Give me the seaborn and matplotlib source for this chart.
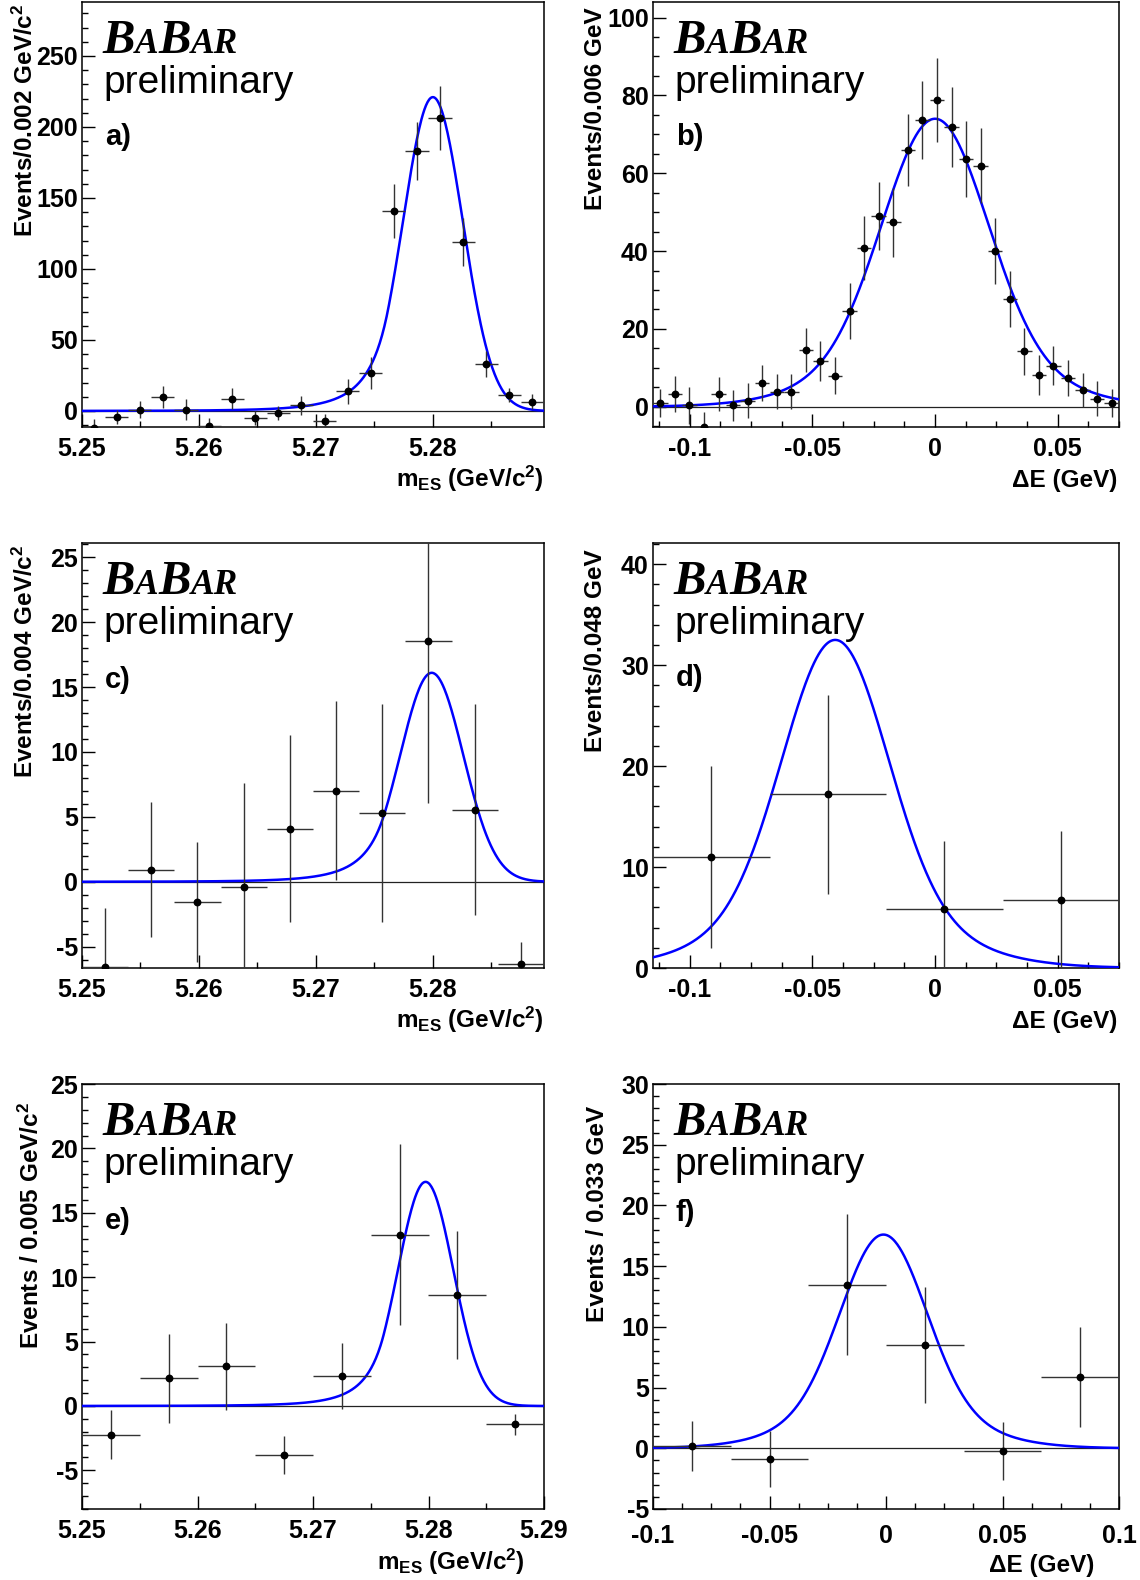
import numpy as np
import pandas as pd
import matplotlib
matplotlib.use("Agg")
import matplotlib.pyplot as plt
import seaborn as sns
from matplotlib.ticker import MultipleLocator, FuncFormatter
from matplotlib.offsetbox import TextArea, HPacker, AnnotationBbox

# ---------------- data ----------------
# a) m_ES, 20 bins over [5.25, 5.2895]
a_x = [5.25099, 5.25296, 5.25494, 5.25691, 5.25889, 5.26086, 5.26284, 5.26481,
       5.26679, 5.26876, 5.27074, 5.27271, 5.27469, 5.27666, 5.27864, 5.28061,
       5.28259, 5.28456, 5.28654, 5.28851]
a_y = [-11.7, -4.2, 1.0, 9.9, 1.0, -10.8, 8.5, -4.7, -1.4, 4.0, -7.0, 14.0,
       26.8, 140.6, 182.9, 206.3, 119.0, 32.9, 11.3, 6.6]
a_err = [6, 5, 6, 8, 7.5, 6, 7.4, 5, 5, 6.7, 5, 8.8, 11, 19, 20.5, 22.5, 17, 9, 5, 5]
a_half = 0.0009875

# b) Delta E, 32 bins over [-0.115, 0.075]
b_x = [-0.11203, -0.10609, -0.10016, -0.09422, -0.08828, -0.08234, -0.07641,
       -0.07047, -0.06453, -0.05859, -0.05266, -0.04672, -0.04078, -0.03484,
       -0.02891, -0.02297, -0.01703, -0.01109, -0.00516, 0.00078, 0.00672,
       0.01266, 0.01859, 0.02453, 0.03047, 0.03641, 0.04234, 0.04828, 0.05422,
       0.06016, 0.06609, 0.07203]
b_y = [0.9, 3.3, 0.4, -5.3, 3.3, 0.4, 1.5, 6.2, 3.9, 3.9, 14.6, 11.8, 8.0, 24.6,
       40.8, 49.0, 47.4, 66.0, 73.7, 78.8, 71.8, 63.7, 61.9, 40.1, 27.7, 14.2,
       8.2, 10.5, 7.3, 4.3, 2.1, 0.9]
b_err = [3.6, 4.6, 4.8, 4.0, 4.3, 4.0, 4.5, 4.6, 4.5, 4.5, 5.6, 5.2, 4.8, 7.2,
         8.2, 8.8, 8.8, 9.3, 10.0, 10.7, 10.3, 9.8, 9.6, 8.5, 7.2, 6.0, 5.2, 5.0,
         4.6, 4.4, 4.6, 3.6]
b_half = 0.00296875

# c) m_ES, 10 bins
c_x = [5.251975, 5.255925, 5.259875, 5.263825, 5.267775, 5.271725, 5.275675,
       5.279625, 5.283575, 5.287525]
c_y = [-6.6, 0.92, -1.56, -0.41, 4.08, 7.03, 5.33, 18.56, 5.56, -6.36]
c_err = [4.56, 5.2, 4.65, 8.0, 7.2, 6.9, 8.4, 12.5, 8.1, 1.75]
c_half = 0.001975

# d) Delta E, 4 bins
d_x = [-0.09125, -0.04375, 0.00375, 0.05125]
d_y = [10.99, 17.19, 5.87, 6.70]
d_err = [9.0, 9.9, 6.7, 6.9]
d_half = 0.02375

# e) m_ES, 8 bins
e_x = [5.2525, 5.2575, 5.2625, 5.2675, 5.2725, 5.2775, 5.2825, 5.2875]
e_y = [-2.22, 2.14, 3.07, -3.82, 2.32, 13.30, 8.60, -1.42]
e_err = [1.9, 3.47, 3.38, 1.45, 2.56, 7.05, 4.95, 0.8]
e_half = 0.0025

# f) Delta E, 6 bins
f_x = [-0.08333, -0.05, -0.01667, 0.01667, 0.05, 0.08333]
f_y = [0.22, -0.85, 13.48, 8.49, -0.22, 5.89]
f_err = [2.05, 2.3, 5.8, 4.8, 2.4, 4.1]
f_half = 0.016667

# fitted PDF parameters (peak height, mean, widths)
a_fit = dict(kind="cb", peak=221.0, mean=5.2800, sigma=0.00255, alpha=1.5, n=5.0)
c_fit = dict(kind="cb", peak=16.1, mean=5.2799, sigma=0.0027, alpha=1.5, n=5.0)
e_fit = dict(kind="cb", peak=17.4, mean=5.27975, sigma=0.0024, alpha=1.5, n=5.0)
b_fit = dict(kind="dg", peak=74.0, mean=0.0, frac=0.81, s1=0.021, s2=0.037)
d_fit = dict(kind="dg", peak=32.5, mean=-0.0407, frac=0.81, s1=0.021, s2=0.039)
f_fit = dict(kind="dg", peak=17.6, mean=-0.0011, frac=0.81, s1=0.018, s2=0.033)

mes_label = r"m$_{\mathrm{ES}}$ (GeV/c$^{\mathrm{2}}$)"
de_label = "ΔE (GeV)"
ylabels = ["Events/0.002 GeV/c$^{\\mathrm{2}}$", "Events/0.006 GeV",
           "Events/0.004 GeV/c$^{\\mathrm{2}}$", "Events/0.048 GeV",
           "Events / 0.005 GeV/c$^{\\mathrm{2}}$", "Events / 0.033 GeV"]
tags = ["a)", "b)", "c)", "d)", "e)", "f)"]


def crystal_ball(x, peak, mean, sigma, alpha, n):
    t = (x - mean) / sigma
    A = (n / alpha) ** n * np.exp(-alpha ** 2 / 2)
    B = n / alpha - alpha
    tail = A * np.maximum(B - t, 1e-9) ** (-n)
    return peak * np.where(t > -alpha, np.exp(-t ** 2 / 2), tail)


def double_gauss(x, peak, mean, frac, s1, s2):
    d = x - mean
    return peak * (frac * np.exp(-d ** 2 / (2 * s1 ** 2)) +
                   (1 - frac) * np.exp(-d ** 2 / (2 * s2 ** 2)))


def fit_curve(x, p):
    if p["kind"] == "cb":
        return crystal_ball(x, p["peak"], p["mean"], p["sigma"], p["alpha"], p["n"])
    return double_gauss(x, p["peak"], p["mean"], p["frac"], p["s1"], p["s2"])


# ---------------- style ----------------
sns.set_theme(style="ticks")
plt.rcParams["font.family"] = ["Liberation Sans", "DejaVu Sans"]
plt.rcParams["font.weight"] = "bold"
plt.rcParams["text.color"] = "black"
plt.rcParams["axes.labelcolor"] = "black"
plt.rcParams["xtick.color"] = "black"
plt.rcParams["ytick.color"] = "black"
plt.rcParams["axes.unicode_minus"] = False
plt.rcParams["mathtext.fontset"] = "custom"
plt.rcParams["mathtext.rm"] = "Liberation Sans:bold"
plt.rcParams["mathtext.bf"] = "Liberation Sans:bold"
plt.rcParams["mathtext.it"] = "Liberation Sans:bold:italic"

W, H = 1140, 1580
fig = plt.figure(figsize=(W / 100, H / 100), dpi=100)
fig.patch.set_facecolor("white")


def px_axes(l, t, r, b):
    return fig.add_axes([l / W, 1 - b / H, (r - l) / W, (b - t) / H])


cols = [(82, 544), (653, 1119)]
rows = [(2, 427), (543, 968), (1084, 1509)]

panels = [
    dict(x=a_x, y=a_y, err=a_err, half=a_half, fit=a_fit, xlim=(5.25, 5.2895),
         ylim=(-11.3, 288), xmaj=0.01, xmin=0.005, ymaj=50, ymin=10, xlabel=mes_label),
    dict(x=b_x, y=b_y, err=b_err, half=b_half, fit=b_fit, xlim=(-0.115, 0.075),
         ylim=(-5.2, 104), xmaj=0.05, xmin=0.0125, ymaj=20, ymin=5, xlabel=de_label),
    dict(x=c_x, y=c_y, err=c_err, half=c_half, fit=c_fit, xlim=(5.25, 5.2895),
         ylim=(-6.64, 26.1), xmaj=0.01, xmin=0.005, ymaj=5, ymin=1, xlabel=mes_label),
    dict(x=d_x, y=d_y, err=d_err, half=d_half, fit=d_fit, xlim=(-0.115, 0.075),
         ylim=(0, 42.1), xmaj=0.05, xmin=0.0125, ymaj=10, ymin=2, xlabel=de_label),
    dict(x=e_x, y=e_y, err=e_err, half=e_half, fit=e_fit, xlim=(5.25, 5.29),
         ylim=(-8, 25), xmaj=0.01, xmin=0.005, ymaj=5, ymin=1, xlabel=mes_label),
    dict(x=f_x, y=f_y, err=f_err, half=f_half, fit=f_fit, xlim=(-0.1, 0.1),
         ylim=(-5, 30), xmaj=0.05, xmin=0.0125, ymaj=5, ymin=1, xlabel=de_label),
]
# label placement tweaks (pixels / points)
ylab_dx = [-57, -58, -57, -58, -51, -55]
ylab_dy = [-2, -5, -2, -6, -18, -22]
xlab_dx = [0, -2, 0, -2, -19, -25]
xlab_dy = [-60, -60, -60, -60, -61, -63]
tag_dy = [-143, -143, -145, -143, -145, -137]
xpad = [7.5, 7.5, 7.5, 7.5, 7.5, 10.5]

fmt = FuncFormatter(lambda v, p: ("%g" % round(v, 6)))

for i, p in enumerate(panels):
    l, r = cols[i % 2]
    t, b = rows[i // 2]
    ax = px_axes(l, t, r, b)
    ax.set_xlim(*p["xlim"])
    ax.set_ylim(*p["ylim"])

    ax.axhline(0, color="#222222", lw=0.9, zorder=1)

    xs = np.linspace(p["xlim"][0], p["xlim"][1], 600)
    curve = pd.DataFrame({"x": xs, "y": fit_curve(xs, p["fit"])})
    sns.lineplot(data=curve, x="x", y="y", ax=ax, color="#0000ff", lw=1.8,
                 zorder=3, sort=False)

    pts = pd.DataFrame({"x": p["x"], "y": p["y"], "err": p["err"]})
    ax.errorbar(pts["x"], pts["y"], yerr=pts["err"], xerr=p["half"], fmt="none",
                ecolor="#333333", elinewidth=1.0, capsize=0, zorder=4)
    sns.scatterplot(data=pts, x="x", y="y", ax=ax, color="black", s=32,
                    edgecolor="black", linewidth=0, zorder=5)

    ax.set_xlabel("")
    ax.set_ylabel("")
    ax.xaxis.set_major_locator(MultipleLocator(p["xmaj"]))
    ax.xaxis.set_minor_locator(MultipleLocator(p["xmin"]))
    ax.yaxis.set_major_locator(MultipleLocator(p["ymaj"]))
    ax.yaxis.set_minor_locator(MultipleLocator(p["ymin"]))
    ax.xaxis.set_major_formatter(fmt)
    ax.yaxis.set_major_formatter(fmt)
    ax.tick_params(axis="both", which="both", direction="in", top=False,
                   right=False, colors="black", width=1.0, labelsize=18)
    ax.tick_params(axis="both", which="major", length=9.5)
    ax.tick_params(axis="both", which="minor", length=4.5)
    ax.tick_params(axis="x", which="both", pad=xpad[i])
    ax.tick_params(axis="y", which="both", pad=3)
    for lab in ax.get_xticklabels() + ax.get_yticklabels():
        lab.set_fontweight("bold")
    for s in ax.spines.values():
        s.set_visible(True)
        s.set_color("black")
        s.set_linewidth(1.1)

    # y label (top aligned, ROOT style)
    ax.annotate(ylabels[i], xy=(0, 1), xycoords="axes fraction",
                xytext=(ylab_dx[i], ylab_dy[i]), textcoords="offset pixels",
                rotation=90, ha="center", va="top", fontsize=17.5,
                fontweight="bold", color="black")
    # x label (right aligned)
    ax.annotate(p["xlabel"], xy=(1, 0), xycoords="axes fraction",
                xytext=(xlab_dx[i], xlab_dy[i]), textcoords="offset pixels",
                ha="right", va="baseline", fontsize=17.5, fontweight="bold",
                color="black")

    # BABAR logo
    big = dict(fontfamily="Liberation Serif", fontweight="bold",
               fontstyle="italic", fontsize=35, color="black")
    small = dict(big, fontsize=25.5)
    logo = HPacker(children=[TextArea("B", textprops=big),
                             TextArea("A", textprops=small),
                             TextArea("B", textprops=big),
                             TextArea("AR", textprops=small)],
                   align="baseline", pad=0, sep=0)
    ab = AnnotationBbox(logo, (0, 1), xycoords="axes fraction",
                        xybox=(20, -17), boxcoords="offset pixels",
                        box_alignment=(0, 1), frameon=False, pad=0)
    ax.add_artist(ab)
    ax.annotate("preliminary", xy=(0, 1), xycoords="axes fraction",
                xytext=(21, -91), textcoords="offset pixels", ha="left",
                va="baseline", fontsize=28, fontweight="normal", color="black")
    ax.annotate(tags[i], xy=(0, 1), xycoords="axes fraction",
                xytext=(23, tag_dy[i]), textcoords="offset pixels", ha="left",
                va="baseline", fontsize=21, fontweight="bold", color="black")

fig.savefig("out.png", dpi=100, facecolor="white")
